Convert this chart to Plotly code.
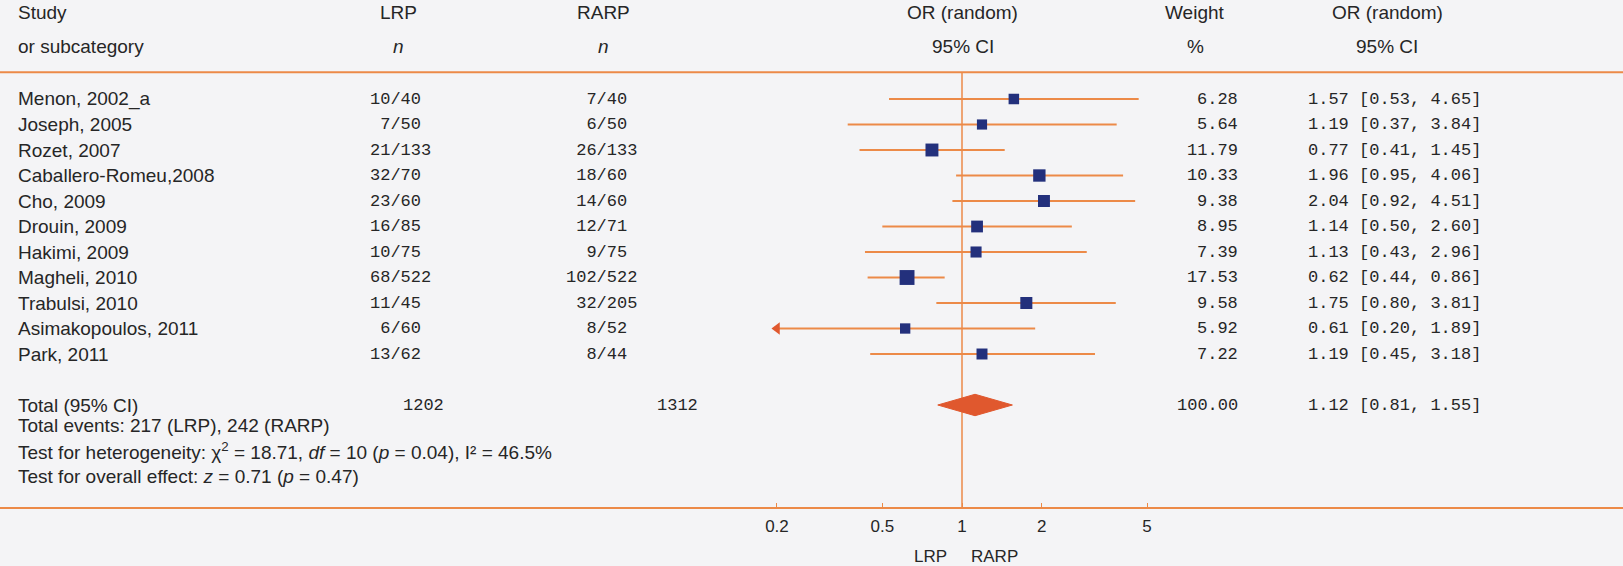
import numpy as np
import plotly.graph_objects as go

# study data
studies = ["Menon, 2002_a", "Joseph, 2005", "Rozet, 2007", "Caballero-Romeu,2008",
           "Cho, 2009", "Drouin, 2009", "Hakimi, 2009", "Magheli, 2010",
           "Trabulsi, 2010", "Asimakopoulos, 2011", "Park, 2011"]
lrp_events = [10, 7, 21, 32, 23, 16, 10, 68, 11, 6, 13]
lrp_n = [40, 50, 133, 70, 60, 85, 75, 522, 45, 60, 62]
rarp_events = [7, 6, 26, 18, 14, 12, 9, 102, 32, 8, 8]
rarp_n = [40, 50, 133, 60, 60, 71, 75, 522, 205, 52, 44]
weight = [6.28, 5.64, 11.79, 10.33, 9.38, 8.95, 7.39, 17.53, 9.58, 5.92, 7.22]
odds = [1.57, 1.19, 0.77, 1.96, 2.04, 1.14, 1.13, 0.62, 1.75, 0.61, 1.19]
ci_lo = [0.53, 0.37, 0.41, 0.95, 0.92, 0.50, 0.43, 0.44, 0.80, 0.20, 0.45]
ci_hi = [4.65, 3.84, 1.45, 4.06, 4.51, 2.60, 2.96, 0.86, 3.81, 1.89, 3.18]

total_lrp = 1202
total_rarp = 1312
total_weight = 100.00
total_or = 1.12
total_lo = 0.81
total_hi = 1.55

tick_vals = [0.2, 0.5, 1, 2, 5]
tick_text = ["0.2", "0.5", "1", "2", "5"]
plot_min = 0.2  # left limit of the plot, CIs reaching it get an arrow

footer = [
    "Total events: 217 (LRP), 242 (RARP)",
    "Test for heterogeneity: χ<sup>2</sup> = 18.71, <i>df</i> = 10 (<i>p</i> = 0.04), I² = 46.5%",
    "Test for overall effect: <i>z</i> = 0.71 (<i>p</i> = 0.47)",
]

W, H = 1623, 566
ORANGE = "#ec8a48"
RED = "#e0582e"
NAVY = "#23307c"
TXT = "#262626"
SANS = "Liberation Sans"
MONO = "Liberation Mono"
SS, MS = 19, 17  # sans / mono font sizes
CW = 0.6 * MS    # mono char width
NB = "\u00a0"

rows = np.arange(len(studies))
total_row = len(studies) + 1

# pixel layout: row 0 at y=99px, 25.5px per row, axis line at 507px
row0, step, axis_px = 99, 25.5, 507
y_top = -row0 / step
y_bot = (axis_px - row0) / step
# x: OR=1 at 962px, 264.7px per decade
one_px, decade = 962, 264.7
x_range = [-one_px / decade, (W - one_px) / decade]


def px(x):
    return x / W


fig = go.Figure()

# reference line at OR = 1
fig.add_trace(go.Scatter(x=[1, 1], y=[-1.05, y_bot], mode="lines",
                         line=dict(color=ORANGE, width=1.5), hoverinfo="skip"))

# confidence intervals
cx, cy = [], []
for r, lo, hi in zip(rows, ci_lo, ci_hi):
    cx += [max(lo, plot_min), hi, None]
    cy += [r, r, None]
fig.add_trace(go.Scatter(x=cx, y=cy, mode="lines",
                         line=dict(color=ORANGE, width=2), hoverinfo="skip"))

# arrows for truncated intervals
ar = [(max(lo, plot_min), r) for r, lo in zip(rows, ci_lo) if lo <= plot_min]
if ar:
    fig.add_trace(go.Scatter(x=[a[0] for a in ar], y=[a[1] for a in ar], mode="markers",
                             marker=dict(symbol="triangle-left", size=11, color=RED),
                             hoverinfo="skip"))

# study estimates
fig.add_trace(go.Scatter(x=odds, y=rows, mode="markers",
                         marker=dict(symbol="square", color=NAVY, opacity=1,
                                     size=[4 + 2.6 * np.sqrt(w) for w in weight],
                                     line=dict(width=0)),
                         hoverinfo="skip"))

# pooled diamond
h = 0.42
fig.add_trace(go.Scatter(x=[total_lo, total_or, total_hi, total_or, total_lo],
                         y=[total_row, total_row - h, total_row, total_row + h, total_row],
                         mode="lines", fill="toself", fillcolor=RED,
                         line=dict(color=RED, width=1), hoverinfo="skip"))

ann = []


def text(x, y, s, anchor="left", font=SANS, size=SS, yref="y"):
    ann.append(dict(x=px(x), y=y, xref="paper", yref=yref, text=s, showarrow=False,
                    xanchor=anchor, yanchor="middle", borderpad=0,
                    font=dict(family=font, size=size, color=TXT)))


def frac(ev, n, width):
    # numerator right-justified so the slashes line up
    return str(ev).rjust(width).replace(" ", NB) + "/" + str(n)


# headers
hy1, hy2 = -3.4, -2.05
text(17, hy1, "Study")
text(17, hy2, "or subcategory")
text(398, hy1, "LRP", "center")
text(398, hy2, "<i>n</i>", "center")
text(603, hy1, "RARP", "center")
text(603, hy2, "<i>n</i>", "center")
text(963, hy1, "OR (random)", "center")
text(963, hy2, "95% CI", "center")
text(1195, hy1, "Weight", "center")
text(1195, hy2, "%", "center")
text(1387, hy1, "OR (random)", "center")
text(1387, hy2, "95% CI", "center")

lrp_slash, rarp_slash = 389, 596
for r, name, le, ln, re_, rn, w, o, lo, hi in zip(rows, studies, lrp_events, lrp_n,
                                                   rarp_events, rarp_n, weight, odds,
                                                   ci_lo, ci_hi):
    text(17, r, name)
    text(lrp_slash - 2 * CW, r, frac(le, ln, 2), "left", MONO, MS)
    text(rarp_slash - 3 * CW, r, frac(re_, rn, 3), "left", MONO, MS)
    text(1239, r, f"{w:.2f}", "right", MONO, MS)
    text(1307, r, f"{o:.2f} [{lo:.2f}, {hi:.2f}]", "left", MONO, MS)

text(17, total_row, "Total (95% CI)")
text(445, total_row, str(total_lrp), "right", MONO, MS)
text(699, total_row, str(total_rarp), "right", MONO, MS)
text(1239, total_row, f"{total_weight:.2f}", "right", MONO, MS)
text(1307, total_row, f"{total_or:.2f} [{total_lo:.2f}, {total_hi:.2f}]", "left", MONO, MS)
for i, s in enumerate(footer):
    text(17, total_row + 0.8 + i, s)

# favours labels under the axis
text(930, (H - 556) / H, "LRP", "center", yref="paper", size=17)
text(995, (H - 556) / H, "RARP", "center", yref="paper", size=17)

fig.update_layout(
    width=W, height=H,
    margin=dict(l=0, r=0, t=0, b=0),
    paper_bgcolor="#f4f4f6", plot_bgcolor="#f4f4f6",
    showlegend=False,
    annotations=ann,
    shapes=[dict(type="line", xref="paper", yref="y", x0=0, x1=1, y0=-1.05, y1=-1.05,
                 line=dict(color=ORANGE, width=2))],
    xaxis=dict(type="log", range=x_range, tickvals=tick_vals, ticktext=tick_text,
               showgrid=False, zeroline=False, showline=True, linecolor=ORANGE,
               linewidth=2, ticks="inside", ticklen=4, tickcolor=ORANGE,
               ticklabelstandoff=3,
               tickfont=dict(family=SANS, size=17, color=TXT), automargin=False,
               fixedrange=True),
    yaxis=dict(domain=[(H - axis_px) / H, 1], range=[y_bot, y_top], visible=False,
               fixedrange=True),
)

fig.write_html("out.html", config={"displayModeBar": False},
               post_script="document.body.style.margin='0';")
